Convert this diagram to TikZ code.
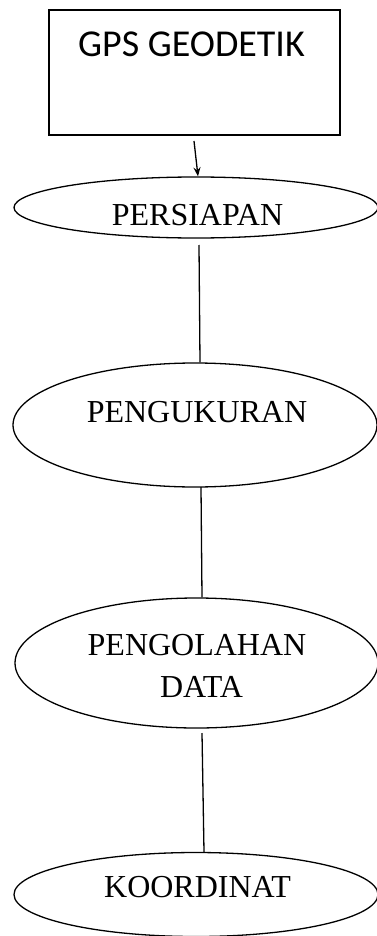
\documentclass[tikz,border=0pt]{standalone}
\usepackage{fontspec}
\setmainfont{Liberation Serif}
\newfontfamily\boxfont{Carlito}
\usetikzlibrary{shapes.geometric,arrows.meta}
\begin{document}
\begin{tikzpicture}[x=1pt,y=-1pt,
  ell/.style={draw,ellipse,line width=1.3pt,inner sep=0pt},
  lbl/.style={anchor=base,inner sep=0pt,font=\fontsize{32}{36}\selectfont},
  conn/.style={line width=1.3pt}]
\useasboundingbox (0,0) rectangle (377,936);
\clip (0,0) rectangle (377,936);
\fill[white] (0,0) rectangle (377,936);
% box
\node[draw,line width=1.3pt,minimum width=291pt,minimum height=125pt,inner sep=0pt] (gps) at (194.6,72.5) {};
\node[anchor=base,inner sep=0pt,font=\boxfont\fontsize{38}{42}\selectfont] (gpst) at (191.5,57) {GPS GEODETIK};
% ellipses
\node[ell,minimum width=364pt,minimum height=61pt] (e1) at (196,207.5) {};
\node[lbl] (t1) at (197.5,225) {PERSIAPAN};
\node[ell,minimum width=364pt,minimum height=124pt] (e2) at (195,425) {};
\node[lbl] (t2) at (197,422) {PENGUKURAN};
\node[ell,minimum width=363pt,minimum height=130pt] (e3) at (196.5,663) {};
\node[lbl] (t3) at (197,655) {PENGOLAHAN};
\node[lbl] (t3b) at (201.5,697) {DATA};
\node[ell,minimum width=364pt,minimum height=84pt] (e4) at (196,894.5) {};
\node[lbl] (t4) at (197.5,897) {KOORDINAT};
% connectors
\coordinate (a0) at (194,141);
\draw[conn,-{Stealth[length=9pt,width=7pt]}] (a0) -- ([xshift=2pt]e1.north);
\coordinate (l1) at (199,245);
\draw[conn] (l1) -- ([xshift=5pt]e2.north);
\coordinate (l2) at (201,487);
\draw[conn] (l2) -- ([xshift=5.5pt]e3.north);
\coordinate (l3) at (202,733);
\draw[conn] (l3) -- ([xshift=8pt]e4.north);
\end{tikzpicture}
\end{document}
